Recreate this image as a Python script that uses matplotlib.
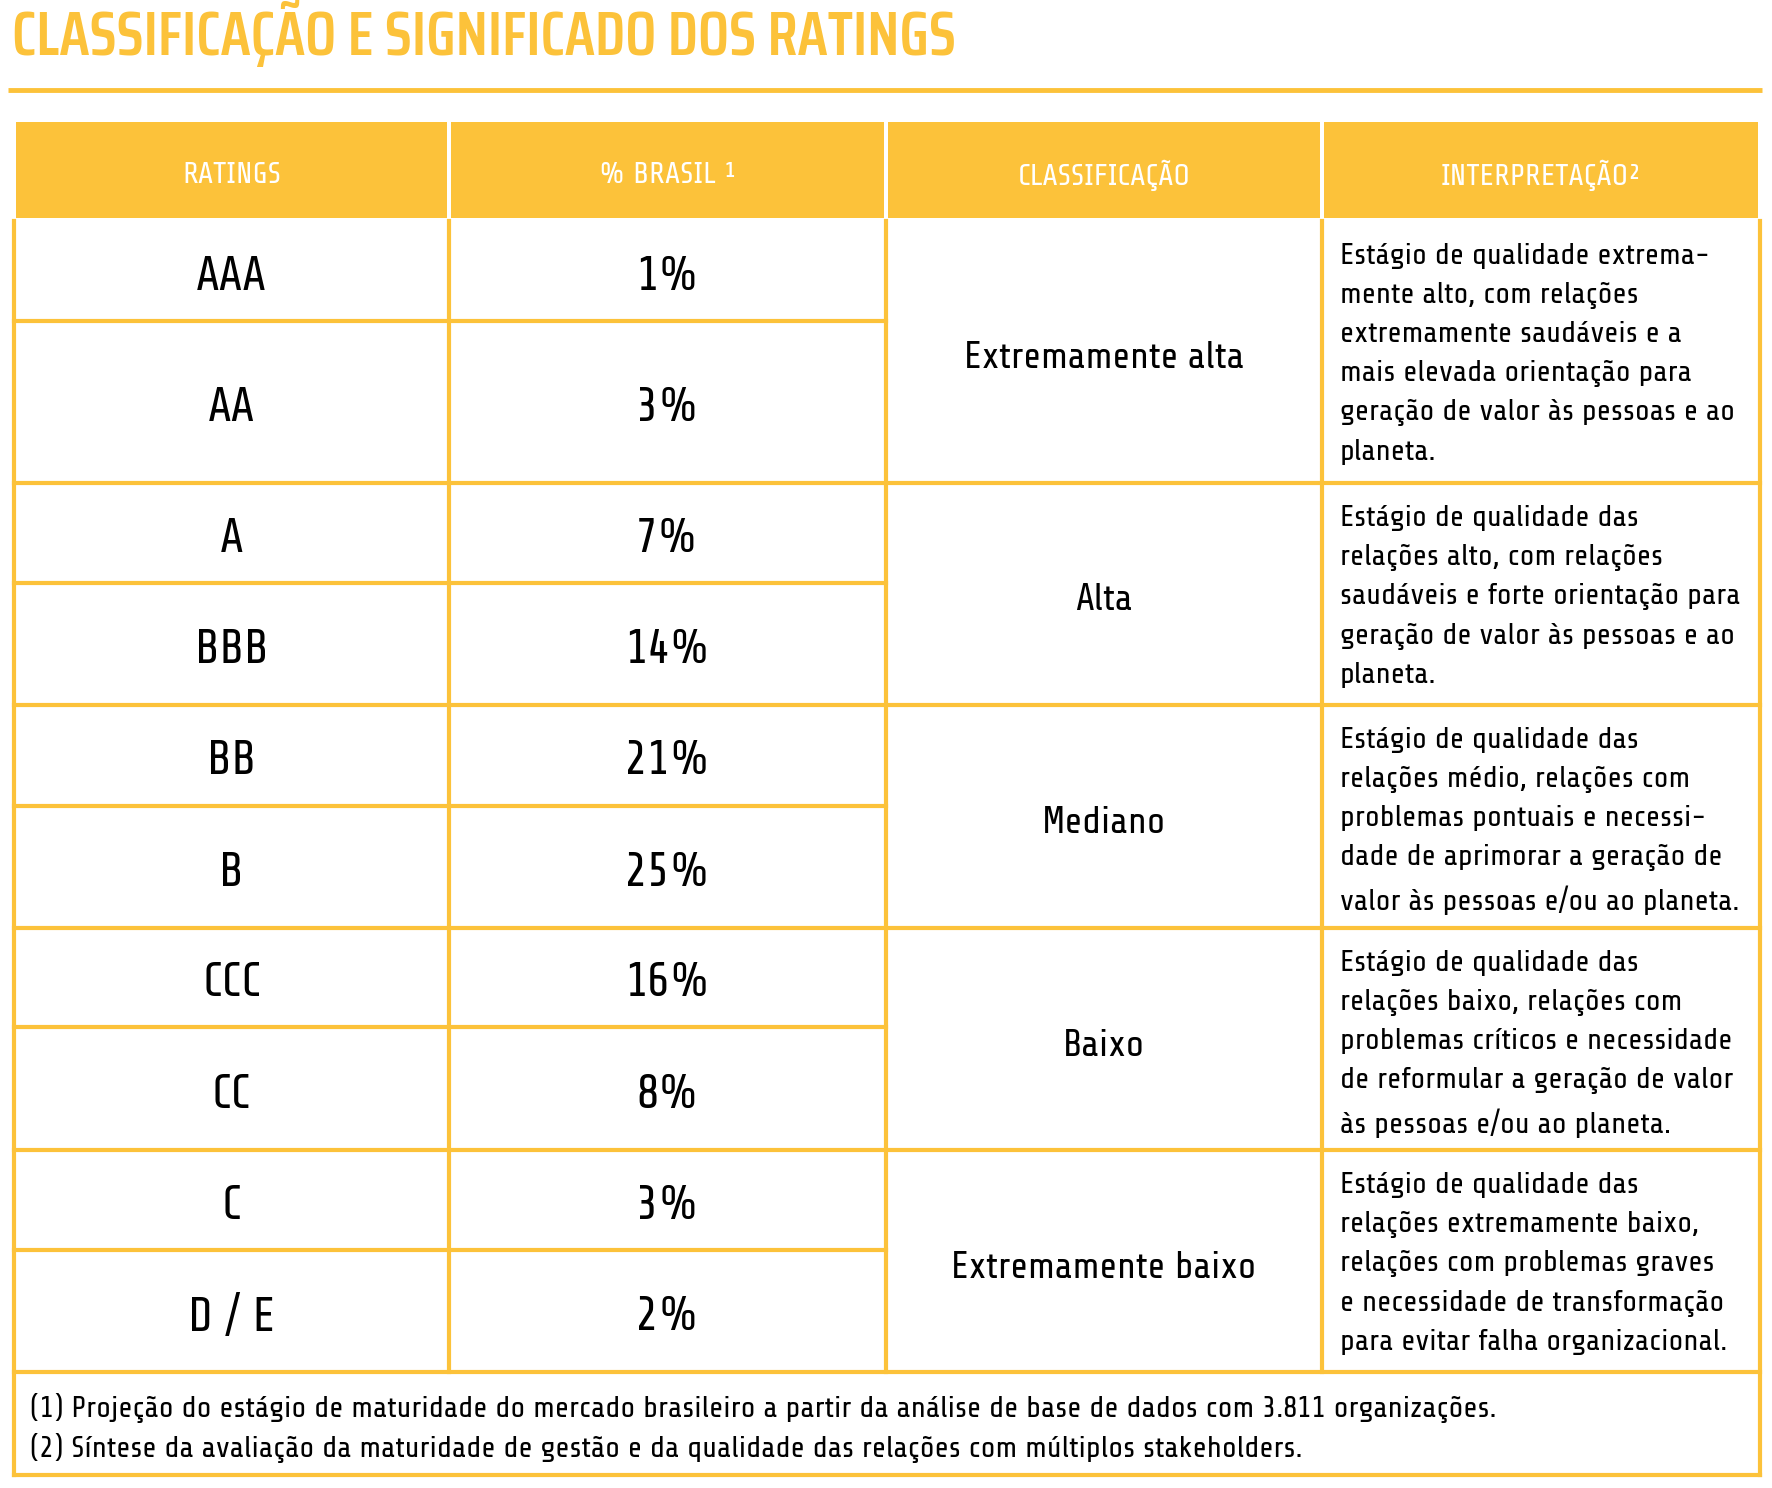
import matplotlib.pyplot as plt
from matplotlib.patches import Rectangle

plt.rcParams['font.family'] = ['Share Tech', 'DejaVu Sans']

title = "CLASSIFICAÇÃO E SIGNIFICADO DOS RATINGS"
headers = ["RATINGS", "% BRASIL ¹", "CLASSIFICAÇÃO", "INTERPRETAÇÃO²"]
ratings = ["AAA", "AA", "A", "BBB", "BB", "B", "CCC", "CC", "C", "D / E"]
percent = [1, 3, 7, 14, 21, 25, 16, 8, 3, 2]
classes = ["Extremamente alta", "Alta", "Mediano", "Baixo", "Extremamente baixo"]
interp = [
    "Estágio de qualidade extrema-\nmente alto, com relações\nextremamente saudáveis e a\nmais elevada orientação para\ngeração de valor às pessoas e ao\nplaneta.",
    "Estágio de qualidade das\nrelações alto, com relações\nsaudáveis e forte orientação para\ngeração de valor às pessoas e ao\nplaneta.",
    "Estágio de qualidade das\nrelações médio, relações com\nproblemas pontuais e necessi-\ndade de aprimorar a geração de\nvalor às pessoas e/ou ao planeta.",
    "Estágio de qualidade das\nrelações baixo, relações com\nproblemas críticos e necessidade\nde reformular a geração de valor\nàs pessoas e/ou ao planeta.",
    "Estágio de qualidade das\nrelações extremamente baixo,\nrelações com problemas graves\ne necessidade de transformação\npara evitar falha organizacional.",
]
footnotes = [
    "(1) Projeção do estágio de maturidade do mercado brasileiro a partir da análise de base de dados com 3.811 organizações.",
    "(2) Síntese da avaliação da maturidade de gestão e da qualidade das relações com múltiplos stakeholders.",
]

yellow = "#FCC23A"
W, H = 1772, 1488
fig = plt.figure(figsize=(W / 100, H / 100), dpi=100)
ax = fig.add_axes([0, 0, 1, 1])
ax.set_xlim(0, W)
ax.set_ylim(H, 0)
ax.axis("off")

# layout (pixels)
cols = [14, 449, 886, 1322, 1760]
row_edges = [221, 321, 483, 583, 705, 806, 928, 1027, 1150, 1250, 1372]
foot_bottom = 1475
lw = 3

ax.text(12, 55, title, color=yellow, fontsize=44, fontweight=600, va="baseline", ha="left",
        family=["Saira Condensed", "DejaVu Sans"])
ax.plot([8, 1762], [90, 90], color=yellow, lw=3.5, solid_capstyle="butt")

# header
for i, h in enumerate(headers):
    ax.add_patch(Rectangle((cols[i] + 2, 122), cols[i + 1] - cols[i] - 4, 96, color=yellow, lw=0))
    ax.text((cols[i] + cols[i + 1]) / 2, 175, h, color="white", fontsize=22, ha="center", va="center")

# body lines
for x in cols:
    ax.plot([x, x], [221, foot_bottom if x in (cols[0], cols[-1]) else row_edges[-1]], color=yellow, lw=lw)
for j, y in enumerate(row_edges[1:], start=1):
    group_edge = j % 2 == 0
    x1 = cols[-1] if group_edge else cols[2]
    ax.plot([cols[0], x1], [y, y], color=yellow, lw=lw)
ax.plot([cols[0], cols[-1]], [foot_bottom, foot_bottom], color=yellow, lw=lw)

for k, (r, p) in enumerate(zip(ratings, percent)):
    yc = (row_edges[k] + row_edges[k + 1]) / 2 + 6
    ax.text((cols[0] + cols[1]) / 2, yc, r, fontsize=34, ha="center", va="center")
    ax.text((cols[1] + cols[2]) / 2, yc, f"{p}%", fontsize=34, ha="center", va="center")

for g, (c, t) in enumerate(zip(classes, interp)):
    top, bot = row_edges[2 * g], row_edges[2 * g + 2]
    ax.text((cols[2] + cols[3]) / 2, (top + bot) / 2 + 6, c, fontsize=27, ha="center", va="center")
    ax.text(cols[3] + 18, top + 22, t, fontsize=21.7, ha="left", va="top", linespacing=1.6)

for i, f in enumerate(footnotes):
    ax.text(30, 1408 + 40 * i, f, fontsize=21.7, ha="left", va="center")

fig.savefig("out.png", dpi=100)
